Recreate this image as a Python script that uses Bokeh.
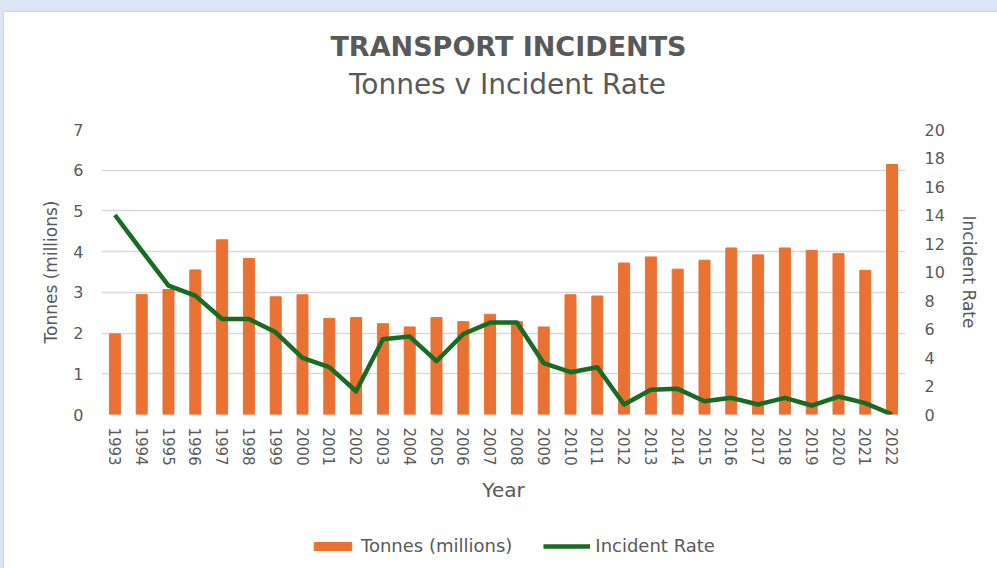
from bokeh.plotting import figure
from bokeh.layouts import column
from bokeh.models import (ColumnDataSource, FactorRange, Range1d, LinearAxis, Legend,
                          LegendItem, Label, FixedTicker, GlobalInlineStyleSheet)
from bokeh.embed import file_html
from bokeh.resources import INLINE

# ---- data ----
years = ["1993", "1994", "1995", "1996", "1997", "1998", "1999", "2000", "2001", "2002",
         "2003", "2004", "2005", "2006", "2007", "2008", "2009", "2010", "2011", "2012",
         "2013", "2014", "2015", "2016", "2017", "2018", "2019", "2020", "2021", "2022"]
tonnes = [1.98, 2.95, 3.07, 3.55, 4.29, 3.83, 2.89, 2.94, 2.36, 2.38,
          2.23, 2.15, 2.38, 2.28, 2.46, 2.28, 2.15, 2.94, 2.91, 3.72,
          3.87, 3.57, 3.79, 4.09, 3.92, 4.09, 4.03, 3.95, 3.54, 6.14]
incident_rate = [14.0, 11.5, 9.04, 8.34, 6.7, 6.7, 5.77, 3.97, 3.32, 1.63,
                 5.28, 5.47, 3.74, 5.65, 6.45, 6.45, 3.6, 2.97, 3.32, 0.7,
                 1.73, 1.8, 0.93, 1.17, 0.7, 1.17, 0.63, 1.26, 0.8, 0.0]
left_ticks = [0, 1, 2, 3, 4, 5, 6, 7]
right_ticks = [0, 2, 4, 6, 8, 10, 12, 14, 16, 18, 20]
title_text = "TRANSPORT INCIDENTS"
subtitle_text = "Tonnes v Incident Rate"

TXT = "#595959"
FONT = "DejaVu Sans"
ORANGE = "#E97132"
GREEN = "#196B24"
NAN = float("nan")

def blank_fig(h):
    f = figure(width=997, height=h, output_backend="svg", toolbar_location=None,
               x_range=Range1d(0, 1), y_range=Range1d(0, 1),
               x_axis_type=None, y_axis_type=None,
               min_border_left=0, min_border_right=0, min_border_top=0, min_border_bottom=0,
               border_fill_color=None, background_fill_color=None, outline_line_color=None,
               title=None)
    f.grid.visible = False
    return f

# ---- header (titles) ----  (screen x is measured from the aligned frame's left edge)
head = blank_fig(112)
head.add_layout(Label(x=407, y=66, x_units="screen", y_units="screen", text=title_text,
                      text_align="center", text_baseline="middle", text_font=FONT,
                      text_font_size="27px", text_font_style="bold", text_color=TXT))
head.add_layout(Label(x=406, y=28, x_units="screen", y_units="screen", text=subtitle_text,
                      text_align="center", text_baseline="middle", text_font=FONT,
                      text_font_size="28px", text_font_style="normal", text_color=TXT))
head.stylesheets = [GlobalInlineStyleSheet(css="""
html { background-color: #ffffff;
  background-image: linear-gradient(#dbe7f4,#dbe7f4), linear-gradient(#dbe7f4,#dbe7f4),
                    linear-gradient(#cfd6dd,#cfd6dd), linear-gradient(#cfd6dd,#cfd6dd);
  background-size: 100% 11px, 3px 100%, 100% 1px, 1px 100%;
  background-position: 0 0, 0 0, 3px 11px, 3px 11px;
  background-repeat: no-repeat; }
""")]

# ---- main chart ----
src = ColumnDataSource(dict(year=years, tonnes=tonnes, rate=incident_rate))

p = figure(x_range=FactorRange(factors=years), y_range=Range1d(0, 7),
           width=997, height=408, output_backend="svg", toolbar_location=None,
           min_border_left=101, min_border_right=92, min_border_top=17, min_border_bottom=106,
           border_fill_color=None, background_fill_color="white", outline_line_color=None,
           title=None)
p.extra_y_ranges = {"rate": Range1d(0, 20)}

bars = p.vbar(x="year", top="tonnes", width=0.41, source=src, fill_color=ORANGE, line_color=ORANGE)
line = p.line(x="year", y="rate", y_range_name="rate", source=src, line_color=GREEN,
              line_width=4.5, line_join="round")

def style_axis(ax):
    ax.axis_line_color = None
    ax.major_tick_line_color = None
    ax.minor_tick_line_color = None
    ax.major_tick_out = 0
    ax.major_tick_in = 0
    ax.minor_tick_out = 0
    ax.minor_tick_in = 0
    ax.major_label_text_color = TXT
    ax.major_label_text_font = FONT
    ax.major_label_text_font_size = "16px"
    ax.axis_label_text_color = TXT
    ax.axis_label_text_font = FONT
    ax.axis_label_text_font_size = "17px"
    ax.axis_label_text_font_style = "normal"

ly = p.yaxis[0]
ly.ticker = FixedTicker(ticks=left_ticks)
ly.axis_label = "Tonnes (millions)"
style_axis(ly)
ly.major_label_standoff = 18
ly.axis_label_standoff = 9

ry = LinearAxis(y_range_name="rate", ticker=FixedTicker(ticks=right_ticks), axis_label="Incident Rate")
style_axis(ry)
ry.major_label_standoff = 19
ry.axis_label_standoff = 11
p.add_layout(ry, "right")

bx = p.xaxis[0]
style_axis(bx)
bx.axis_label = "Year"
bx.major_label_orientation = "vertical"
bx.major_label_text_font_size = "15px"
bx.major_label_standoff = 13
bx.axis_label_standoff = 9
bx.axis_label_text_font_size = "20px"

p.xgrid.visible = False
p.ygrid.grid_line_color = "#d9d9d9"
p.ygrid.grid_line_width = 1.5

# ---- legend strip (legend-only glyphs hold no drawable data) ----
foot = blank_fig(48)
leg_bar = foot.vbar(x=[NAN], top=[NAN], width=0.41, fill_color=ORANGE, line_color=ORANGE)
leg_line = foot.line(x=[NAN], y=[NAN], line_color=GREEN, line_width=4.5)
legend = Legend(items=[LegendItem(label="Tonnes (millions)", renderers=[leg_bar]),
                       LegendItem(label="Incident Rate", renderers=[leg_line])],
                orientation="horizontal", location=(208, 12),
                glyph_width=47, glyph_height=10, label_text_font=FONT,
                label_text_font_size="18px", label_text_color=TXT, spacing=31,
                padding=0, margin=0, border_line_color=None, background_fill_alpha=0,
                label_standoff=5)
foot.add_layout(legend, "center")

layout = column(head, p, foot, spacing=0)
open("out.html", "w").write(file_html(layout, INLINE))
